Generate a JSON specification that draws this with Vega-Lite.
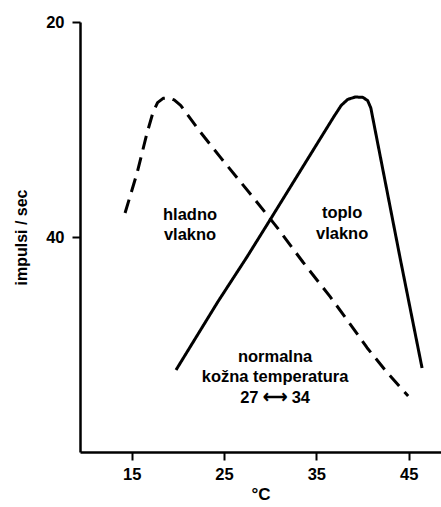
{
  "$schema": "https://vega.github.io/schema/vega-lite/v6.json",
  "width": 361,
  "height": 430,
  "autosize": {"type": "none"},
  "padding": {"left": 80, "top": 22, "right": 0, "bottom": 55},
  "background": "white",
  "config": {
    "view": {"stroke": null},
    "font": "Liberation Sans"
  },
  "datasets": {
    "curves": [
      {"fiber": "hladno", "i": 1, "t": 14.28, "imp": 37.77},
      {"fiber": "hladno", "i": 2, "t": 15.58, "imp": 34.05},
      {"fiber": "hladno", "i": 3, "t": 16.66, "imp": 30.33},
      {"fiber": "hladno", "i": 4, "t": 17.31, "imp": 28.4},
      {"fiber": "hladno", "i": 5, "t": 17.8, "imp": 27.5},
      {"fiber": "hladno", "i": 6, "t": 18.4, "imp": 27.1},
      {"fiber": "hladno", "i": 7, "t": 19.0, "imp": 27.05},
      {"fiber": "hladno", "i": 8, "t": 19.6, "imp": 27.25},
      {"fiber": "hladno", "i": 9, "t": 20.3, "imp": 27.75},
      {"fiber": "hladno", "i": 10, "t": 22.4, "imp": 30.2},
      {"fiber": "hladno", "i": 11, "t": 24.57, "imp": 32.55},
      {"fiber": "hladno", "i": 12, "t": 28.14, "imp": 36.3},
      {"fiber": "hladno", "i": 13, "t": 30.74, "imp": 39.1},
      {"fiber": "hladno", "i": 14, "t": 33.56, "imp": 42.35},
      {"fiber": "hladno", "i": 15, "t": 36.49, "imp": 45.55},
      {"fiber": "hladno", "i": 16, "t": 38.33, "imp": 47.7},
      {"fiber": "hladno", "i": 17, "t": 40.49, "imp": 50.3},
      {"fiber": "hladno", "i": 18, "t": 42.66, "imp": 52.6},
      {"fiber": "hladno", "i": 19, "t": 44.94, "imp": 54.79},
      {"fiber": "toplo", "i": 1, "t": 19.8, "imp": 52.37},
      {"fiber": "toplo", "i": 2, "t": 24.35, "imp": 46.0},
      {"fiber": "toplo", "i": 3, "t": 27.49, "imp": 41.85},
      {"fiber": "toplo", "i": 4, "t": 29.99, "imp": 38.4},
      {"fiber": "toplo", "i": 5, "t": 33.99, "imp": 32.84},
      {"fiber": "toplo", "i": 6, "t": 36.9, "imp": 28.8},
      {"fiber": "toplo", "i": 7, "t": 37.7, "imp": 27.75},
      {"fiber": "toplo", "i": 8, "t": 38.4, "imp": 27.2},
      {"fiber": "toplo", "i": 9, "t": 39.2, "imp": 26.98},
      {"fiber": "toplo", "i": 10, "t": 40.0, "imp": 27.0},
      {"fiber": "toplo", "i": 11, "t": 40.55, "imp": 27.3},
      {"fiber": "toplo", "i": 12, "t": 40.9, "imp": 28.0},
      {"fiber": "toplo", "i": 13, "t": 44.07, "imp": 41.95},
      {"fiber": "toplo", "i": 14, "t": 46.45, "imp": 52.19}
    ],
    "labels": [
      {"label": "hladno\nvlakno", "t": 21.32, "imp": 37.95},
      {"label": "toplo\nvlakno", "t": 37.79, "imp": 37.77},
      {"label": "normalna\nkožna temperatura\n27 ⟷ 34", "t": 30.53, "imp": 51.16}
    ]
  },
  "layer": [
    {
      "data": {"name": "curves"},
      "mark": {"type": "line", "interpolate": "linear", "strokeWidth": 3, "color": "black", "strokeCap": "butt", "strokeJoin": "round"},
      "encoding": {
        "x": {
          "field": "t", "type": "quantitative",
          "scale": {"domain": [9.4, 48.5], "nice": false, "zero": false},
          "axis": {
            "values": [15, 25, 35, 45], "title": "°C", "grid": false,
            "domainColor": "black", "domainWidth": 2.5, "tickColor": "black", "tickWidth": 2, "tickSize": 8,
            "labelFont": "Liberation Sans", "labelFontWeight": "bold", "labelFontSize": 16.5, "labelColor": "black", "labelPadding": 6,
            "titleFont": "Liberation Sans", "titleFontWeight": "bold", "titleFontSize": 17, "titleColor": "black", "titlePadding": 4
          }
        },
        "y": {
          "field": "imp", "type": "quantitative",
          "scale": {"domain": [20, 60], "reverse": true, "nice": false, "zero": false},
          "axis": {
            "values": [20, 40], "title": "impulsi / sec", "grid": false,
            "domainColor": "black", "domainWidth": 2.5, "tickColor": "black", "tickWidth": 2, "tickSize": 8,
            "labelFont": "Liberation Sans", "labelFontWeight": "bold", "labelFontSize": 16.5, "labelColor": "black", "labelPadding": 8,
            "titleFont": "Liberation Sans", "titleFontWeight": "bold", "titleFontSize": 16, "titleColor": "black", "titlePadding": 16
          }
        },
        "detail": {"field": "fiber"},
        "order": {"field": "i", "type": "quantitative"},
        "strokeDash": {
          "field": "fiber", "type": "nominal",
          "scale": {"domain": ["hladno", "toplo"], "range": [[14, 8], [1, 0]]},
          "legend": null
        }
      }
    },
    {
      "data": {"name": "labels"},
      "mark": {"type": "text", "lineBreak": "\n", "align": "center", "baseline": "middle", "font": "Liberation Sans", "fontSize": 16.5, "fontWeight": "bold", "color": "black", "lineHeight": 20.5},
      "encoding": {
        "x": {"field": "t", "type": "quantitative"},
        "y": {"field": "imp", "type": "quantitative"},
        "text": {"field": "label"}
      }
    }
  ]
}
